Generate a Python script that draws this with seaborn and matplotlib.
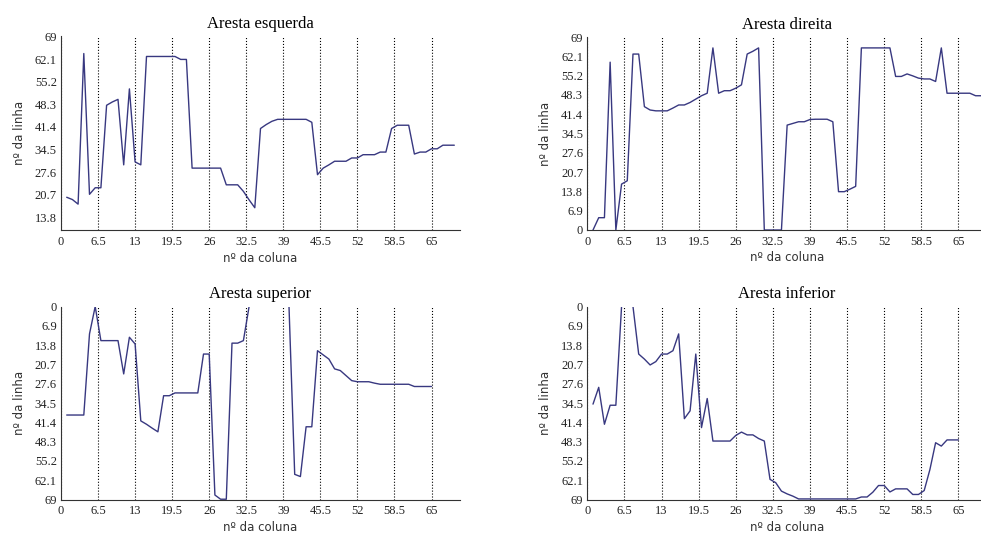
import numpy as np
import matplotlib
matplotlib.use("Agg")
import matplotlib.pyplot as plt
import pandas as pd
import seaborn as sns

# row index of the edge found for each column
esquerda = [19.9, 19.2, 17.8, 63.8, 20.8, 22.8, 22.8, 48.0, 49.0, 49.8,
            29.8, 53.0, 30.7, 29.8, 62.9, 62.9, 62.9, 62.9, 62.9, 62.9,
            62.0, 62.0, 28.8, 28.8, 28.8, 28.8, 28.8, 28.8, 23.7, 23.7,
            23.7, 21.7, 19.1, 16.7, 40.9, 42.1, 43.1, 43.7, 43.7, 43.7,
            43.7, 43.7, 43.7, 42.8, 26.8, 28.8, 29.8, 30.9, 30.9, 30.9,
            31.9, 31.9, 32.9, 32.9, 32.9, 33.7, 33.7, 40.9, 41.9, 41.9,
            41.9, 33.1, 33.7, 33.7, 34.7, 34.7, 35.8, 35.8, 35.8]
direita = [0.0, 4.4, 4.4, 60.0, 0.0, 16.4, 17.6, 62.9, 62.9, 44.1,
           42.9, 42.6, 42.6, 42.6, 43.6, 44.7, 44.7, 45.6, 46.8, 48.0,
           48.9, 65.1, 48.9, 49.8, 49.8, 50.7, 51.9, 62.9, 63.9, 65.1,
           0.0, 0.0, 0.0, 0.0, 37.5, 38.1, 38.7, 38.7, 39.5, 39.6,
           39.6, 39.6, 38.7, 13.7, 13.7, 14.6, 15.6, 65.1, 65.1, 65.1,
           65.1, 65.1, 65.1, 54.9, 54.9, 55.8, 55.1, 54.3, 54.0, 54.0,
           53.1, 65.1, 48.9, 48.9, 48.9, 48.9, 48.9, 48.0, 48.0, 48.0]
superior = [38.8, 38.8, 38.8, 38.8, 9.8, 0.0, 12.2, 12.2, 12.2, 12.2,
            24.1, 11.0, 13.4, 40.9, 42.1, 43.5, 44.8, 31.9, 31.9, 30.9,
            30.9, 30.9, 30.9, 30.9, 17.0, 17.0, 67.4, 68.9, 68.9, 13.1,
            13.1, 12.2, 0.0, np.nan, np.nan, np.nan, np.nan, np.nan, np.nan, 0.0,
            60.0, 60.8, 43.0, 43.0, 15.8, 17.3, 18.8, 22.3, 22.9, 24.7,
            26.5, 26.9, 26.9, 26.9, 27.4, 27.8, 27.8, 27.8, 27.8, 27.8,
            27.8, 28.6, 28.6, 28.6, 28.6]
inferior = [34.9, 28.9, 42.1, 35.3, 35.3, 0.0, np.nan, 0.0, 17.0, 18.8,
            20.9, 19.7, 17.0, 17.0, 15.8, 9.8, 40.1, 37.3, 17.0, 43.3,
            32.9, 48.1, 48.1, 48.1, 48.1, 46.1, 44.9, 45.9, 45.9, 47.2,
            48.1, 61.8, 63.0, 66.0, 67.0, 67.8, 68.8, 68.8, 68.8, 68.8,
            68.8, 68.8, 68.8, 68.8, 68.8, 68.8, 68.8, 68.1, 68.1, 66.4,
            64.0, 64.0, 66.3, 65.2, 65.2, 65.2, 67.2, 67.2, 65.8, 58.3,
            48.7, 49.9, 47.7, 47.7, 47.7]

titulos = ["Aresta esquerda", "Aresta direita", "Aresta superior", "Aresta inferior"]
x_ticks = [0, 6.5, 13, 19.5, 26, 32.5, 39, 45.5, 52, 58.5, 65]
y_ticks = [0, 6.9, 13.8, 20.7, 27.6, 34.5, 41.4, 48.3, 55.2, 62.1, 69]

sns.set_style("white")
plt.rcParams["font.family"] = ["Liberation Serif", "DejaVu Serif"]

W, H = 981, 539
fig = plt.figure(figsize=(W / 100, H / 100), dpi=100)


def box(left, right, top, bottom):
    return [left / W, 1 - bottom / H, (right - left) / W, (bottom - top) / H]


positions = [box(61, 460, 36.5, 230), box(587.3, 987, 37, 230),
             box(61, 460, 306.5, 499.5), box(587.3, 987, 306.5, 499.5)]
series = [esquerda, direita, superior, inferior]
ylims = [(9.9, 69), (0, 69), (69, 0), (69, 0)]
line_color = "#383880"

for pos, vals, title, ylim in zip(positions, series, titulos, ylims):
    ax = fig.add_axes(pos)
    df = pd.DataFrame({"coluna": np.arange(1, len(vals) + 1), "linha": vals})
    # break the line where the edge left the image
    df["seg"] = df["linha"].isna().cumsum()
    df = df.dropna()
    sns.lineplot(data=df, x="coluna", y="linha", units="seg", estimator=None,
                 color=line_color, linewidth=1.0, ax=ax, legend=False)

    ax.set_xlim(0, 70)
    ax.set_ylim(*ylim)
    ax.set_xticks(x_ticks)
    ax.set_xticklabels([f"{t:g}" for t in x_ticks])
    yt = [t for t in y_ticks if t >= min(ylim)]
    ax.set_yticks(yt)
    ax.set_yticklabels([f"{t:g}" for t in yt])
    ax.tick_params(direction="in", length=3, width=0.8, colors="#222222",
                   labelsize=9, pad=4)
    ax.tick_params(axis="y", pad=3)
    ax.grid(axis="x", linestyle=":", color="black", linewidth=0.8)
    ax.grid(axis="y", visible=False)
    sns.despine(ax=ax)
    for s in ["left", "bottom"]:
        ax.spines[s].set_color("#333333")
        ax.spines[s].set_linewidth(0.8)

    ax.set_title(title, fontsize=12, pad=6, color="black")
    ax.set_xlabel("nº da coluna", family=["DejaVu Sans"], fontsize=8.5, color="#333333")
    ax.set_ylabel("nº da linha", family=["DejaVu Sans"], fontsize=8.5, color="#333333")
    ax.xaxis.label.set_va("center")
    ax.yaxis.label.set_va("center")
    ax.xaxis.set_label_coords(0.5, -0.145)
    ax.yaxis.set_label_coords(-0.105, 0.5)

fig.savefig("out.png", dpi=100)
